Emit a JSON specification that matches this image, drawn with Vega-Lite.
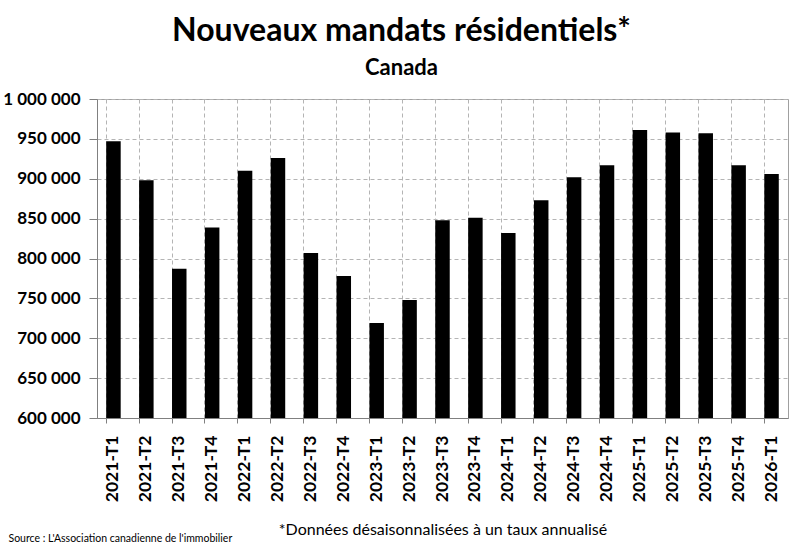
{
  "$schema": "https://vega.github.io/schema/vega-lite/v6.json",
  "width": 691,
  "height": 319,
  "autosize": {"type": "none"},
  "padding": {"left": 97, "top": 99, "right": 12, "bottom": 130},
  "background": "white",
  "title": {
    "text": "Nouveaux mandats résidentiels*",
    "subtitle": "Canada",
    "anchor": "middle",
    "dx": -41,
    "offset": 10,
    "fontSize": 32,
    "fontWeight": "bold",
    "font": "Lato",
    "color": "#000000",
    "subtitleFont": "Lato",
    "subtitleFontSize": 22,
    "subtitleFontWeight": "bold",
    "subtitleColor": "#000000",
    "subtitlePadding": 10
  },
  "data": {
    "values": [
      {"periode": "2021-T1", "mandats": 947000},
      {"periode": "2021-T2", "mandats": 898000},
      {"periode": "2021-T3", "mandats": 787000},
      {"periode": "2021-T4", "mandats": 839000},
      {"periode": "2022-T1", "mandats": 910000},
      {"periode": "2022-T2", "mandats": 926000},
      {"periode": "2022-T3", "mandats": 807000},
      {"periode": "2022-T4", "mandats": 778000},
      {"periode": "2023-T1", "mandats": 719000},
      {"periode": "2023-T2", "mandats": 748000},
      {"periode": "2023-T3", "mandats": 848000},
      {"periode": "2023-T4", "mandats": 851000},
      {"periode": "2024-T1", "mandats": 832000},
      {"periode": "2024-T2", "mandats": 873000},
      {"periode": "2024-T3", "mandats": 902000},
      {"periode": "2024-T4", "mandats": 917000},
      {"periode": "2025-T1", "mandats": 961000},
      {"periode": "2025-T2", "mandats": 958000},
      {"periode": "2025-T3", "mandats": 957000},
      {"periode": "2025-T4", "mandats": 917000},
      {"periode": "2026-T1", "mandats": 906000}
    ]
  },
  "mark": {"type": "bar", "color": "#000000"},
  "encoding": {
    "x": {
      "field": "periode",
      "type": "ordinal",
      "sort": null,
      "scale": {"paddingInner": 0.56, "paddingOuter": 0.28},
      "axis": {
        "title": "*Données désaisonnalisées à un taux annualisé",
        "titleFont": "Lato",
        "titleFontSize": 16,
        "titleFontWeight": "normal",
        "titleColor": "#000000",
        "titlePadding": 20,
        "bandPosition": 0,
        "labelAngle": 270,
        "labelFont": "Lato",
        "labelFontSize": 17.5,
        "labelFontWeight": "bold",
        "labelColor": "#000000",
        "labelPadding": 12,
        "tickSize": 5,
        "tickColor": "#808080",
        "domainColor": "#808080",
        "grid": true,
        "gridColor": "#b4b4b4",
        "gridDash": [4, 3],
        "gridWidth": 1
      }
    },
    "y": {
      "field": "mandats",
      "type": "quantitative",
      "scale": {"domain": [600000, 1000000], "zero": false, "nice": false},
      "axis": {
        "values": [600000, 650000, 700000, 750000, 800000, 850000, 900000, 950000, 1000000],
        "labelExpr": "replace(replace(format(datum.value, ','), ',', ' '), ',', ' ')",
        "labelFont": "Lato",
        "labelFontSize": 17,
        "labelFontWeight": "bold",
        "labelColor": "#000000",
        "labelPadding": 9,
        "tickSize": 8,
        "tickColor": "#808080",
        "domainColor": "#808080",
        "grid": true,
        "gridColor": "#b4b4b4",
        "gridDash": [4, 3],
        "gridWidth": 1,
        "title": "Source : L'Association canadienne de l'immobilier",
        "titleAngle": 0,
        "titleAlign": "left",
        "titleBaseline": "alphabetic",
        "titleX": -89,
        "titleY": 442,
        "titleFont": "Lato",
        "titleFontSize": 10.5,
        "titleFontWeight": "normal",
        "titleColor": "#000000"
      }
    },
    "y2": {"datum": 600000}
  },
  "config": {
    "view": {"stroke": "#a0a0a0", "strokeWidth": 1},
    "font": "Lato"
  }
}
